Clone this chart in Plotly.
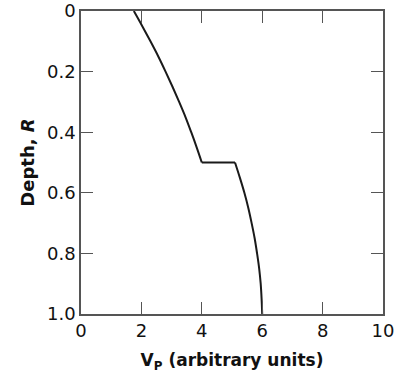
import plotly.graph_objects as go

# Upper layer: depth (R) and P-wave velocity (arbitrary units)
depth_upper = [0.0, 0.05, 0.1, 0.15, 0.2, 0.25, 0.3, 0.35, 0.4, 0.45, 0.5]
vp_upper = [1.75, 2.03, 2.30, 2.56, 2.80, 3.03, 3.25, 3.46, 3.65, 3.83, 4.0]
# Lower layer
depth_lower = [0.5, 0.55, 0.6, 0.65, 0.7, 0.75, 0.8, 0.85, 0.9, 0.95, 1.0]
vp_lower = [5.1, 5.26, 5.41, 5.54, 5.65, 5.75, 5.83, 5.90, 5.95, 5.98, 6.0]

x_ticks = [0, 2, 4, 6, 8, 10]
y_ticks = [0, 0.2, 0.4, 0.6, 0.8, 1.0]
y_tick_text = ["0", "0.2", "0.4", "0.6", "0.8", "1.0"]

FONT = "'DejaVu Sans', sans-serif"
AX = "#555555"
LINE = dict(color="#1a1a1a", width=2)

fig = go.Figure()
fig.add_trace(go.Scatter(x=vp_upper, y=depth_upper, mode="lines",
                         line=dict(shape="spline", **LINE),
                         showlegend=False, hoverinfo="skip"))
# velocity jump at the boundary
fig.add_trace(go.Scatter(x=[vp_upper[-1], vp_lower[0]],
                         y=[depth_upper[-1], depth_lower[0]], mode="lines",
                         line=LINE, showlegend=False, hoverinfo="skip"))
fig.add_trace(go.Scatter(x=vp_lower, y=depth_lower, mode="lines",
                         line=dict(shape="spline", **LINE),
                         showlegend=False, hoverinfo="skip"))

axis_common = dict(showline=True, linecolor=AX, linewidth=1.5, mirror="ticks",
                   ticks="inside", ticklen=12, tickwidth=1.3, tickcolor=AX,
                   showgrid=False, zeroline=False, automargin=False,
                   tickfont=dict(family=FONT, size=18, color="#111111"))

fig.update_layout(
    width=395, height=374,
    margin=dict(l=81, r=12, t=11, b=60),
    paper_bgcolor="white", plot_bgcolor="white",
    xaxis=dict(range=[0, 10], tickvals=x_ticks,
               title=dict(text="<b>V<sub>P</sub> (arbitrary units)</b>",
                          font=dict(family=FONT, size=17, color="#111111"),
                          standoff=14),
               **axis_common),
    yaxis=dict(range=[1.0, 0], tickvals=y_ticks, ticktext=y_tick_text,
               title=dict(text="<b>Depth, <i>R</i></b>",
                          font=dict(family=FONT, size=18, color="#111111"),
                          standoff=8),
               **axis_common),
)

fig.write_html("out.html",
               config={"displayModeBar": False},
               post_script="document.body.style.margin='0';"
                           "document.body.style.overflow='hidden';")
